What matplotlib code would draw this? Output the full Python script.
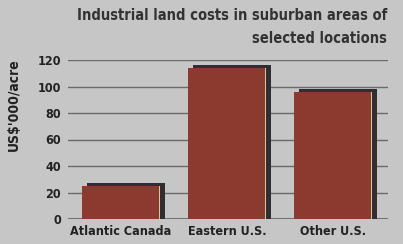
import matplotlib.pyplot as plt

plt.rcParams['font.family'] = ['DejaVu Sans']
plt.rcParams['font.stretch'] = 'condensed'

categories = ['Atlantic Canada', 'Eastern U.S.', 'Other U.S.']
costs = [25, 114, 96]
yticks = [0, 20, 40, 60, 80, 100, 120]

bg = '#c6c6c6'
fig = plt.figure(figsize=(4.03, 2.44), dpi=100, facecolor=bg)
ax = fig.add_axes([68 / 403, 25 / 244, 320 / 403, 159 / 244])
ax.set_facecolor(bg)

x = list(range(len(categories)))
w = 0.74
for yv in yticks:
    ax.axhline(yv, color='#6a6a6a', lw=1.3 if yv == 0 else 1.0, zorder=1)

# dark shadow, then the bar, then a light sliver at the right edge
ax.bar([i + 0.05 for i in x], [c + 2.3 for c in costs], width=w, color='#2e2e34', zorder=2)
ax.bar(x, costs, width=w, color='#8c3a30', linewidth=0, zorder=3)
ax.bar([i + w / 2 - 0.006 for i in x], costs, width=0.012, color='#d8c890', zorder=4)

ax.set_xlim(-0.5, 2.52)
ax.set_ylim(0, 120)
ax.set_yticks(yticks)
ax.set_xticks(x)
ax.set_xticklabels(categories, fontsize=9, fontweight='bold', color='#222222')
ax.tick_params(axis='y', labelsize=9, length=0, pad=5, labelcolor='#222222')
ax.tick_params(axis='x', length=0, pad=4)
for lab in ax.get_yticklabels():
    lab.set_fontweight('bold')
for s in ax.spines.values():
    s.set_visible(False)

ax.set_ylabel("US$'000/acre", fontsize=10, fontweight='bold', color='#222222')
ax.yaxis.set_label_coords(-0.147, 0.72)

fig.text(387 / 403, 1 - 15 / 244, 'Industrial land costs in suburban areas of',
         ha='right', va='center', fontsize=10.5, fontweight='bold', color='#333333')
fig.text(387 / 403, 1 - 38 / 244, 'selected locations',
         ha='right', va='center', fontsize=10.5, fontweight='bold', color='#333333')

fig.savefig('out.png', dpi=100, facecolor=bg)
